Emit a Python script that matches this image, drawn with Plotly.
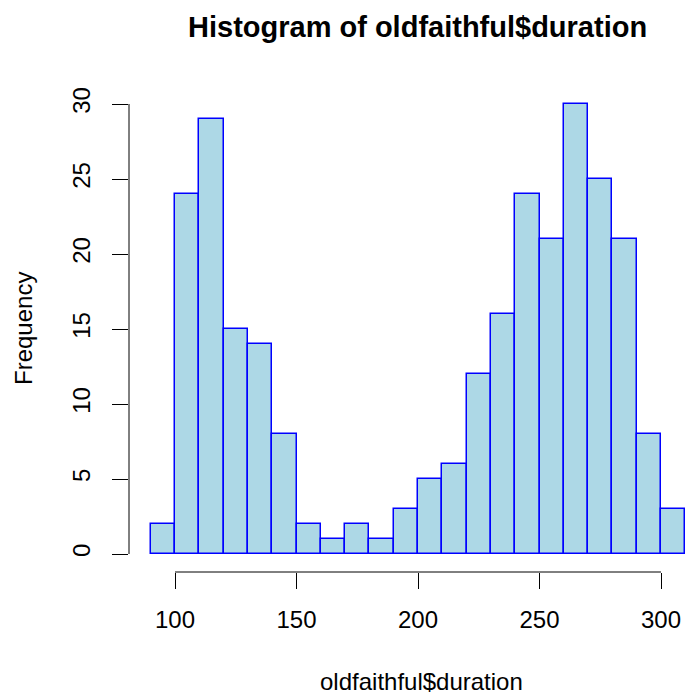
import plotly.graph_objects as go

# Histogram of eruption durations (seconds), bins of width 10
bin_starts = [90, 100, 110, 120, 130, 140, 150, 160, 170, 180, 190,
              200, 210, 220, 230, 240, 250, 260, 270, 280, 290, 300]
counts = [2, 24, 29, 15, 14, 8, 2, 1, 2, 1, 3,
          5, 6, 12, 16, 24, 21, 30, 25, 21, 8, 3]
bin_width = 10
x_ticks = [100, 150, 200, 250, 300]
y_ticks = [0, 5, 10, 15, 20, 25, 30]

FONT = "Liberation Sans, Arial, Helvetica, sans-serif"

centers = [b + bin_width / 2 for b in bin_starts]

fig = go.Figure(
    go.Bar(
        x=centers,
        y=counts,
        width=bin_width,
        marker=dict(color="#ADD8E6", line=dict(color="#0000FF", width=1.5)),
        hoverinfo="skip",
    )
)

fig.update_layout(
    width=686,
    height=694,
    margin=dict(l=129, r=0, t=86, b=122),
    plot_bgcolor="white",
    paper_bgcolor="white",
    showlegend=False,
    font=dict(family=FONT, size=24, color="black"),
    bargap=0,
)

fig.update_xaxes(
    range=[81.07, 310.29],
    tickvals=x_ticks,
    ticktext=[str(v) for v in x_ticks],
    ticks="outside",
    ticklen=16,
    tickwidth=1,
    tickcolor="black",
    ticklabelstandoff=10,
    showline=False,
    showgrid=False,
    zeroline=False,
    tickfont=dict(size=24),
)
fig.update_yaxes(
    range=[-1.2, 31.2],
    tickvals=y_ticks,
    ticktext=[str(v) for v in y_ticks],
    ticks="outside",
    ticklen=16,
    tickwidth=1,
    tickcolor="black",
    tickangle=-90,
    ticklabelstandoff=12,
    showline=False,
    showgrid=False,
    zeroline=False,
    tickfont=dict(size=24),
)

# R-style axis lines spanning only the tick range
fig.add_shape(type="line", xref="x", yref="paper", x0=x_ticks[0], x1=x_ticks[-1],
              y0=0, y1=0, line=dict(color="black", width=1))
fig.add_shape(type="line", xref="paper", yref="y", x0=0, x1=0,
              y0=y_ticks[0], y1=y_ticks[-1], line=dict(color="black", width=1))

fig.add_annotation(text="<b>Histogram of oldfaithful$duration</b>", xref="x", yref="paper",
                   x=199.6, y=1.121, showarrow=False, xanchor="center", yanchor="middle",
                   font=dict(size=29, family=FONT))
fig.add_annotation(text="oldfaithful$duration", xref="x", yref="paper",
                   x=201.6, y=-0.2243, showarrow=False, xanchor="center", yanchor="middle",
                   font=dict(size=24, family=FONT))
fig.add_annotation(text="Frequency", xref="paper", yref="paper",
                   x=-0.1903, y=0.5, showarrow=False, xanchor="center", yanchor="middle",
                   textangle=-90, font=dict(size=24, family=FONT))

fig.write_html("out.html")
